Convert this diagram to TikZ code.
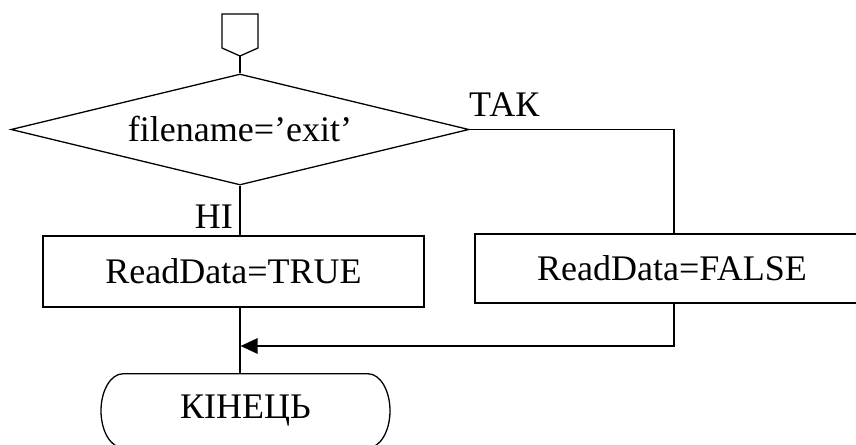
\documentclass[tikz,border=0pt]{standalone}
\usepackage{fontspec}
\setmainfont{Liberation Serif}
\usetikzlibrary{shapes.geometric,arrows.meta,calc}

% drawing unit: all coordinates below are given in multiples of it
\newlength\uL
\setlength\uL{0.9pt}

\tikzset{
  line/.style={line width=1.17pt},
  procbox/.style={draw, line width=1.17pt, rectangle, inner sep=0pt},
  decision/.style={draw, line width=1.17pt, diamond, aspect=4.1, inner sep=0pt,
                   minimum width=412.2pt, minimum height=99.9pt},
  flowarrow/.style={line width=2.5pt, -{Triangle[length=15.3pt,width=13.5pt]}},
  lbl/.style={inner sep=0pt}
}

\begin{document}
\begin{tikzpicture}[x=\uL, y=-\uL, font=\fontsize{32.4}{38}\selectfont]
  \useasboundingbox (0,0) rectangle (856,445);

  % entry connector (off-page style pentagon)
  \coordinate (conn) at (240,56);
  \draw[line, line join=miter] (222,14) -- (258,14) -- (258,48) -- (conn) -- (222,48) -- cycle;

  % decision
  \node[decision] (d) at (240,129.5) {filename=’exit’};
  \node[lbl, anchor=base west] (yes) at (469,116) {ТАК};
  \node[lbl, anchor=base east] (no) at (233,228) {НІ};

  % process boxes (the right one runs past the page edge)
  \node[procbox, minimum width=342.9pt, minimum height=63.9pt] (bt) at (233.5,271.5) {ReadData=TRUE};
  \coordinate (bfnw) at (475,234);
  \coordinate (bfse) at (900,303);
  \draw[line] (bfnw) rectangle (bfse);
  \node[lbl] (bf) at (672,268.5) {ReadData=FALSE};

  % terminal
  \node[lbl, minimum width=260pt, minimum height=66.6pt] (term) at (245.5,411) {КІНЕЦЬ};
  \draw[line] ($(term.north)+(-122.5,0)$) -- ++(245,0)
     arc[start angle=90, end angle=-90, x radius=19.8pt, y radius=33.3pt]
     -- ++(-245,0)
     arc[start angle=270, end angle=90, x radius=19.8pt, y radius=33.3pt] -- cycle;

  % helper coordinates for the routing
  \coordinate (xcol) at (674,0);
  \coordinate (merge) at (240.5,346);

  % connectors
  \draw[line] (conn) -- (d.north);
  \draw[line] (d.east) -| (bfnw -| xcol);
  \draw[line] (d.south) -- (d.south |- bt.north);
  \draw[line] (bt.south -| d.south) -- (term.north -| d.south);
  \draw[line] (bfse -| xcol) -- (xcol |- merge);
  \draw[flowarrow] ([xshift=0.5pt]xcol |- merge) -- (merge);
\end{tikzpicture}
\end{document}
